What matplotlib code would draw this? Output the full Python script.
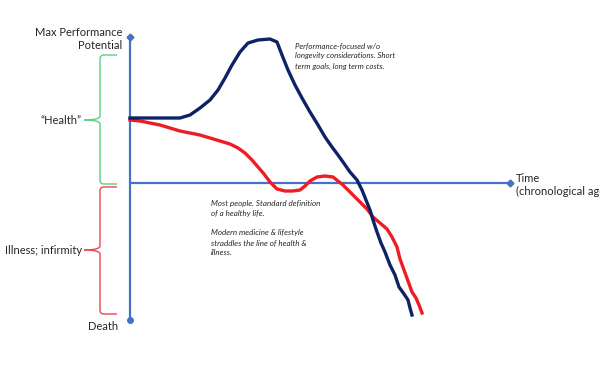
import matplotlib
matplotlib.use("Agg")
import matplotlib.pyplot as plt
from matplotlib.path import Path
from matplotlib.patches import PathPatch

plt.rcParams['font.family'] = ['Lato', 'DejaVu Sans']

# Data in pixel-like chart coordinates (x = time, y = down-positive position)
blue_x = [130, 180, 190, 200, 210, 218, 225, 232, 240, 248, 258, 270, 277, 282, 288, 295, 302, 310, 318, 325,
          332, 338, 343, 350, 357, 362, 366, 370, 373, 377, 381, 385, 390, 395, 399, 404, 408, 410, 412]
blue_y = [118, 118, 115, 108, 100, 90, 78, 65, 52, 43, 40, 39, 42, 55, 70, 85, 98, 112, 125, 137,
          147, 155, 162, 172, 180, 190, 200, 210, 220, 232, 243, 252, 265, 275, 287, 294, 300, 308, 315]

red_x = [130, 140, 150, 160, 170, 180, 190, 200, 210, 220, 230, 238, 245, 252, 258, 264, 270, 277, 285, 293,
         300, 305, 310, 317, 325, 333, 338, 343, 350, 360, 367, 373, 380, 387, 392, 397, 400, 404, 408,
         412, 416, 419, 422]
red_y = [120, 121, 123, 125, 128, 131, 133, 135, 138, 141, 144, 148, 153, 160, 167, 174, 182, 189, 191, 191,
         190, 186, 181, 177, 176, 177, 181, 185, 192, 202, 209, 217, 223, 229, 237, 247, 259, 270, 281,
         292, 298, 305, 313]

health_range = (55, 184, 120)
illness_range = (187, 314, 250)

fig = plt.figure(figsize=(6, 3.75), dpi=100)
ax = fig.add_axes([0, 0, 1, 1])
ax.set_xlim(0, 600)
ax.set_ylim(375, 0)
ax.axis('off')

axis_c = '#4472C4'
# axes lines
ax.plot([130, 130], [37, 320], color=axis_c, lw=1.6, solid_capstyle='butt', zorder=1)
ax.plot([130, 510], [183, 183], color=axis_c, lw=1.6, solid_capstyle='butt', zorder=1)
ax.plot([130], [37], marker='D', ms=3.5, color=axis_c, zorder=2)
ax.plot([510], [183], marker='D', ms=3.5, color=axis_c, zorder=2)
ax.plot([130], [320], marker='o', ms=4, color=axis_c, zorder=2)

ax.plot(red_x, red_y, color='#EE1C25', lw=2.4, zorder=3, solid_joinstyle='round')
ax.plot(blue_x, blue_y, color='#0D2366', lw=2.4, zorder=4, solid_joinstyle='round')


def brace(y0, y1, ytip, color, xr=117, xs=100, xt=84):
    r = 4
    ax.add_patch(PathPatch(Path([(xr, y0), (xs + r, y0), (xs, y0), (xs, y0 + r), (xs, ytip - r),
                                 (xs, ytip), (xt, ytip)],
                                [Path.MOVETO, Path.LINETO, Path.CURVE3, Path.CURVE3, Path.LINETO,
                                 Path.CURVE3, Path.CURVE3]),
                           fill=False, ec=color, lw=1.0))
    ax.add_patch(PathPatch(Path([(xt, ytip), (xs, ytip), (xs, ytip + r), (xs, y1 - r),
                                 (xs, y1), (xs + r, y1), (xr, y1)],
                                [Path.MOVETO, Path.CURVE3, Path.CURVE3, Path.LINETO,
                                 Path.CURVE3, Path.CURVE3, Path.LINETO]),
                           fill=False, ec=color, lw=1.0))


brace(health_range[0], health_range[1], health_range[2], '#5BD07A')
brace(illness_range[0], illness_range[1], illness_range[2], '#E8474C')

fs = 8
tc = '#262626'
ax.text(122, 39, 'Max Performance\nPotential', ha='right', va='center', fontsize=fs, color=tc,
        linespacing=1.3)
ax.text(82, 121, '\u201cHealth\u201d', ha='right', va='center', fontsize=fs, color=tc)
ax.text(82, 250, 'Illness; infirmity', ha='right', va='center', fontsize=fs, color=tc)
ax.text(103, 327, 'Death', ha='center', va='center', fontsize=fs, color=tc)
ax.text(516, 185, 'Time\n(chronological age)', ha='left', va='center', fontsize=fs, color=tc,
        linespacing=1.3)

ax.text(295, 56, 'Performance-focused w/o\nlongevity considerations. Short\nterm goals, long term costs.',
        ha='left', va='center', fontsize=5.7, style='italic', color=tc, linespacing=1.55)
ax.text(211, 228, 'Most people. Standard definition\nof a healthy life.\n\nModern medicine & lifestyle\n'
        'straddles the line of health &\nillness.',
        ha='left', va='center', fontsize=5.8, style='italic', color=tc, linespacing=1.45)

fig.savefig('out.png', dpi=100)
